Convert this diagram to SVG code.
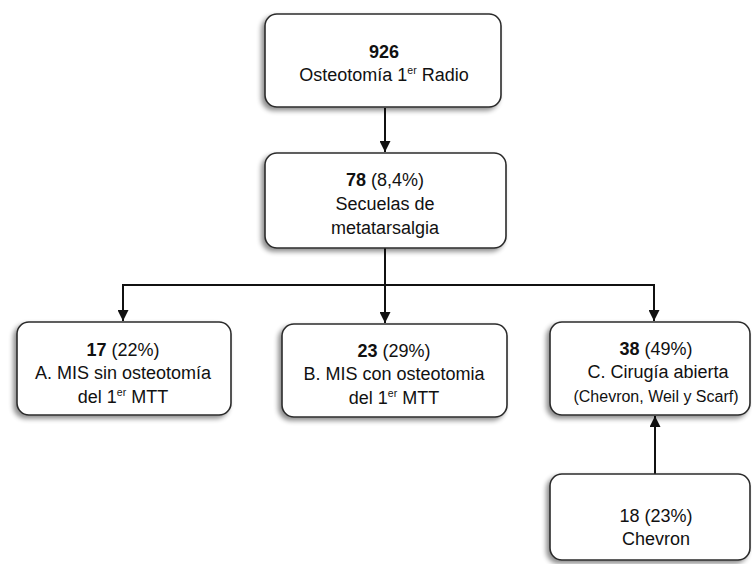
<svg xmlns="http://www.w3.org/2000/svg" width="752" height="564" viewBox="0 0 752 564">
<style>
.box{fill:#fff;stroke:#2b2b2b;stroke-width:1.6;filter:url(#sh)}
.t{font-family:"Liberation Sans",Arial,sans-serif;font-size:18px;fill:#111;text-anchor:middle}
.s{font-size:16px}
.b{font-weight:bold}
.sup{font-size:10.5px}
.c{fill:none;stroke:#111;stroke-width:2}
</style>
<defs>
<filter id="sh" x="-10%" y="-10%" width="120%" height="130%">
<feGaussianBlur in="SourceAlpha" stdDeviation="2.5"/>
<feOffset dx="-3" dy="3" result="o"/>
<feComponentTransfer><feFuncA type="linear" slope="0.45"/></feComponentTransfer>
<feMerge><feMergeNode/><feMergeNode in="SourceGraphic"/></feMerge>
</filter>
<marker id="ah" viewBox="0 0 10 10" refX="10" refY="5" markerWidth="5.5" markerHeight="5.5" orient="auto" markerUnits="strokeWidth">
<path d="M0,0 L10,5 L0,10 z" fill="#111"/>
</marker>
</defs>
<rect width="752" height="564" fill="#fff"/>
<g id="connectors">
<line class="c" x1="385" y1="108" x2="385" y2="152" marker-end="url(#ah)"/>
<polyline class="c" points="385,248 385,285"/>
<line class="c" x1="123" y1="285" x2="655" y2="285"/>
<line class="c" x1="123" y1="284" x2="123" y2="321" marker-end="url(#ah)"/>
<line class="c" x1="385" y1="284" x2="385" y2="323" marker-end="url(#ah)"/>
<line class="c" x1="654" y1="284" x2="654" y2="321" marker-end="url(#ah)"/>
<line class="c" x1="655" y1="474" x2="655" y2="416" marker-end="url(#ah)"/>
</g>
<g id="n1">
<rect class="box" x="265" y="14" width="236" height="93" rx="12"/>
<text class="t" x="384" y="58"><tspan class="b">926</tspan></text>
<text class="t" x="384" y="81">Osteotomía 1<tspan class="sup" dy="-7">er</tspan><tspan dy="7"> Radio</tspan></text>
</g>
<g id="n2">
<rect class="box" x="265" y="153" width="241" height="95" rx="12"/>
<text class="t" x="385" y="186"><tspan class="b">78</tspan> (8,4%)</text>
<text class="t" x="385" y="210">Secuelas de</text>
<text class="t" x="385" y="234">metatarsalgia</text>
</g>
<g id="nA">
<rect class="box" x="17" y="322" width="214" height="93" rx="12"/>
<text class="t" x="123" y="356"><tspan class="b">17</tspan>  (22%)</text>
<text class="t" x="123" y="379">A. MIS sin osteotomía</text>
<text class="t" x="123" y="403">del 1<tspan class="sup" dy="-7">er</tspan><tspan dy="7"> MTT</tspan></text>
</g>
<g id="nB">
<rect class="box" x="282" y="324" width="225" height="93" rx="12"/>
<text class="t" x="394" y="357"><tspan class="b">23</tspan>  (29%)</text>
<text class="t" x="394" y="380">B. MIS con osteotomia</text>
<text class="t" x="394" y="404">del 1<tspan class="sup" dy="-7">er</tspan><tspan dy="7"> MTT</tspan></text>
</g>
<g id="nC">
<rect class="box" x="550" y="322" width="200" height="93" rx="12"/>
<text class="t" x="656" y="355"><tspan class="b">38</tspan>  (49%)</text>
<text class="t" x="658" y="378">C. Cirugía  abierta</text>
<text class="t s" x="656" y="402">(Chevron, Weil y Scarf)</text>
</g>
<g id="nD">
<rect class="box" x="550" y="474" width="200" height="86" rx="12"/>
<text class="t" x="656" y="522">18 (23%)</text>
<text class="t" x="656" y="545">Chevron</text>
</g>
</svg>
